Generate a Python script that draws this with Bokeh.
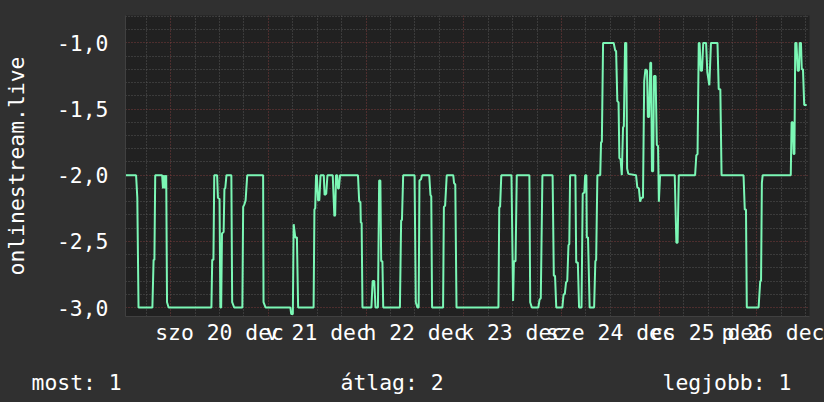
from bokeh.plotting import figure
from bokeh.layouts import column
from bokeh.models import FixedTicker, CustomJSTickFormatter, Range1d
from bokeh.core.properties import value
from bokeh.embed import file_html
from bokeh.resources import INLINE

# time axis: hours since 2014-12-20 00:00 (szombat)
hours = [
    -11.1, -8.5, -8.2, -7.9, -4.5, -4.2, -4.0, -3.8, -2.1, -1.9, -1.6, -1.4, -1.1, -0.9, -0.5,
    10.0, 10.2, 10.5, 10.7, 11.4, 11.6, 12.0, 12.2, 12.4, 12.6, 13.0, 13.2, 13.4, 13.7, 14.9, 15.1, 15.6,
    17.6, 17.8, 18.1, 18.4, 18.8, 22.7, 22.8, 23.3,
    29.4, 29.6, 30.0, 30.2, 30.6, 31.0, 31.3,
    35.1, 35.3, 35.5, 35.7, 35.9, 36.2, 36.5, 36.8, 37.6, 37.8, 38.2, 38.5, 39.8, 40.2, 40.4, 40.6, 40.9, 41.1, 41.3, 41.6,
    46.0, 46.3, 46.6, 46.7, 46.9, 47.1,
    49.3, 49.6, 50.0, 50.3, 50.9, 51.2, 51.5, 51.7, 52.0, 52.2,
    56.3, 56.6, 56.8, 57.1, 59.9, 60.2, 60.6, 60.9, 61.1, 61.5, 61.7, 63.5, 63.8, 64.0, 64.2,
    66.9, 67.1, 67.4, 67.8, 69.4, 69.6, 69.9, 70.2,
    80.5, 80.7, 80.9, 81.2, 83.7, 84.1, 84.3, 84.7, 85.0, 88.1, 88.3, 88.7,
    90.3, 90.6, 90.9, 91.3, 93.8, 94.1, 94.4, 94.7,
    96.2, 96.5, 96.8, 97.1, 97.4, 97.7, 97.9, 98.1, 99.4, 99.6, 100.0, 100.3,
    100.9, 101.2, 101.6, 101.8, 102.1, 102.2, 102.5, 102.9,
    104.0, 104.3, 104.5, 104.8, 105.5, 105.7, 105.9, 106.2, 108.8, 109.2, 109.4, 109.7, 110.0, 110.2, 110.5, 110.8, 111.1, 111.3, 111.6, 111.9, 112.1, 112.4,
    114.3, 114.6, 115.0, 115.3, 115.6, 116.0, 116.3, 116.6, 117.0, 117.2, 117.5, 117.8, 118.0, 118.2, 118.5, 118.7, 119.1, 119.4, 119.7, 119.9, 120.2,
    123.8, 124.2, 124.5, 124.8, 128.8, 129.1, 129.4, 129.7, 129.9, 130.2, 130.5, 130.8, 131.5, 131.8, 132.3, 132.7, 134.3, 134.6, 135.0, 135.3,
    140.7, 141.0, 141.3, 141.5, 144.4, 144.8, 145.0, 145.2, 145.4,
    152.3, 152.5, 152.8, 153.0, 153.2, 153.4, 153.7, 154.0, 154.3, 154.5, 154.8, 155.0, 155.3, 155.6, 156.2,
]
values = [
    -2.0, -2.0, -2.17, -3.0, -3.0, -2.64, -2.64, -2.0, -2.0, -2.1, -2.0, -2.1, -2.0, -2.96, -3.0,
    -3.0, -2.64, -2.64, -2.0, -2.0, -2.17, -2.18, -3.0, -3.0, -2.44, -2.43, -2.1, -2.1, -2.0, -2.0, -2.96, -3.0,
    -3.0, -2.24, -2.22, -2.19, -2.0, -2.0, -2.96, -3.0,
    -3.0, -3.05, -3.05, -2.37, -2.47, -2.47, -3.0,
    -3.0, -2.26, -2.25, -2.0, -2.0, -2.19, -2.19, -2.0, -2.0, -2.15, -2.14, -2.0, -2.0, -2.31, -2.3, -2.0, -2.0, -2.1, -2.1, -2.0,
    -2.0, -2.2, -2.2, -2.36, -2.36, -3.0,
    -3.0, -2.8, -2.8, -3.0, -3.0, -2.04, -2.04, -2.65, -2.65, -3.0,
    -3.0, -2.34, -2.34, -2.0, -2.0, -2.96, -3.0, -3.0, -2.04, -2.03, -2.0, -2.0, -2.15, -2.16, -3.0,
    -3.0, -2.24, -2.23, -2.0, -2.0, -2.06, -2.07, -3.0,
    -3.0, -2.24, -2.24, -2.0, -2.0, -2.95, -2.65, -2.65, -2.0, -2.0, -2.96, -3.0,
    -3.0, -2.94, -2.93, -2.0, -2.0, -2.76, -2.76, -3.0,
    -3.0, -2.9, -2.9, -2.81, -2.8, -2.53, -2.52, -2.0, -2.0, -2.66, -2.66, -3.0,
    -3.0, -2.14, -2.13, -2.0, -2.0, -2.47, -2.47, -3.0,
    -3.0, -2.65, -2.64, -2.0, -2.0, -1.75, -1.75, -1.0, -1.0, -1.06, -1.06, -1.44, -1.45, -1.87, -1.88, -2.0, -1.64, -1.63, -1.0, -1.0, -1.95, -1.99,
    -2.0, -2.09, -2.1, -2.2, -2.17, -2.17, -1.29, -1.2, -1.21, -1.56, -1.56, -1.15, -1.15, -1.97, -1.97, -1.25, -1.25, -1.77, -1.78, -2.2, -2.0,
    -2.0, -2.51, -2.51, -2.0, -2.0, -1.85, -1.84, -1.0, -1.0, -1.21, -1.21, -1.0, -1.0, -1.22, -1.32, -1.0, -1.0, -1.35, -1.35, -2.0,
    -2.0, -2.26, -2.26, -3.0, -3.0, -2.8, -2.8, -2.06, -2.0,
    -2.0, -1.6, -1.6, -1.84, -1.84, -1.0, -1.0, -1.21, -1.21, -1.0, -1.0, -1.2, -1.2, -1.47, -1.47,
]
assert len(hours) == len(values)

day_label_hours = [12, 36, 60, 84, 108, 132, 156]
day_labels = ["szo 20 dec", "v 21 dec", "h 22 dec", "k 23 dec", "sze 24 dec", "cs 25 dec", "p 26 dec"]
midnight_hours = [0, 24, 48, 72, 96, 120, 144]
six_hour_ticks = [-6, 6, 12, 18, 30, 36, 42, 54, 60, 66, 78, 84, 90, 102, 108, 114, 126, 132, 138, 150, 156]
y_major = [-3.0, -2.5, -2.0, -1.5, -1.0]
y_minor = [-2.9, -2.8, -2.7, -2.6, -2.4, -2.3, -2.2, -2.1, -1.9, -1.8, -1.7, -1.6,
           -1.4, -1.3, -1.2, -1.1, -0.9, -0.8]
y_title = "onlinestream.live"
legend_texts = ["most: 1", "átlag: 2", "legjobb: 1"]
legend_x = [31, 340, 662]

FONT = "DejaVu Sans Mono"
FS = "21.4px"
BG = "#303030"
W = 824
H_MAIN = 352
H_LEG = 50

p = figure(width=W, height=H_MAIN, output_backend="svg", toolbar_location=None,
           x_range=Range1d(-11.1, 156.9), y_range=Range1d(-3.068, -0.793),
           min_border_left=125, min_border_right=15, min_border_top=15,
           min_border_bottom=H_MAIN - 316, frame_align=False,
           background_fill_color="#212121", border_fill_color=BG, outline_line_color=None)

p.line(hours, values, line_color="#7bf7b5", line_width=2)

# grids: major (red) every day / 0.5, minor (grey) every 6 h / 0.1
p.xgrid.ticker = FixedTicker(ticks=midnight_hours, minor_ticks=six_hour_ticks)
p.xgrid.grid_line_color = "#7a3c3c"
p.xgrid.grid_line_dash = "1 2"
p.xgrid.minor_grid_line_color = "#575757"
p.xgrid.minor_grid_line_dash = "1 2"
p.ygrid.ticker = FixedTicker(ticks=y_major, minor_ticks=y_minor)
p.ygrid.grid_line_color = "#7a3c3c"
p.ygrid.grid_line_dash = "1 2"
p.ygrid.minor_grid_line_color = "#575757"
p.ygrid.minor_grid_line_dash = "1 2"

# x axis: day labels centred at noon
xa = p.xaxis[0]
xa.ticker = FixedTicker(ticks=day_label_hours)
xa.major_label_overrides = dict(zip(day_label_hours, day_labels))
xa.major_tick_out = 0
xa.major_tick_in = 0
xa.minor_tick_out = 0
xa.minor_tick_in = 0
xa.axis_line_color = "#404040"
xa.major_label_standoff = 3
xa.major_label_text_font = FONT
xa.major_label_text_font_size = FS
xa.major_label_text_color = "white"

# y axis
ya = p.yaxis[0]
ya.ticker = FixedTicker(ticks=y_major)
ya.formatter = CustomJSTickFormatter(code="return tick.toFixed(1).replace('.', ',');")
ya.major_tick_out = 0
ya.major_tick_in = 0
ya.minor_tick_out = 0
ya.minor_tick_in = 0
ya.axis_line_color = "#404040"
ya.major_label_standoff = 17
ya.major_label_text_font = FONT
ya.major_label_text_font_size = FS
ya.major_label_text_color = "white"
ya.axis_label = y_title
ya.axis_label_text_font = FONT
ya.axis_label_text_font_size = FS
ya.axis_label_text_font_style = "normal"
ya.axis_label_text_color = "white"
ya.axis_label_standoff = 25

# legend row below the chart
leg = figure(width=W, height=H_LEG, output_backend="svg", toolbar_location=None,
             x_range=Range1d(0, W), y_range=Range1d(0, H_LEG),
             x_axis_type=None, y_axis_type=None, min_border=0, frame_align=False,
             background_fill_color=BG, border_fill_color=BG, outline_line_color=None)
leg.xgrid.visible = False
leg.ygrid.visible = False
leg.text(x=legend_x, y=[20.5] * len(legend_x), text=legend_texts,
         text_font=value(FONT), text_font_size=FS, text_color="white",
         text_baseline="alphabetic", text_align="left")

layout = column(p, leg, spacing=0, styles={"background-color": BG})
open("out.html", "w").write(file_html(layout, INLINE))
